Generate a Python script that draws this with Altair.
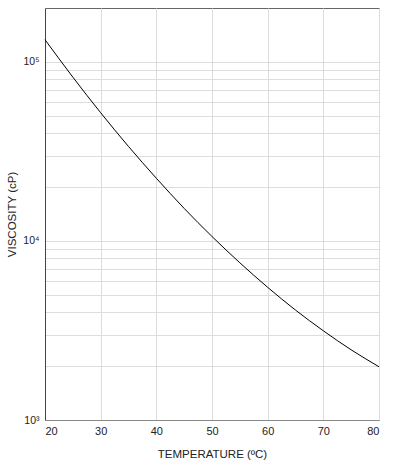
import altair as alt
import pandas as pd

temps = [20, 25, 30, 35, 40, 45, 50, 55, 60, 65, 70, 75, 80]
viscosity = [133000, 82200, 52000, 33700, 22400, 15200, 10590, 7550, 5510, 4110, 3150, 2466, 1982]

grid_values = [1000, 2000, 3000, 4000, 5000, 6000, 7000, 8000, 9000,
               10000, 20000, 30000, 40000, 50000, 60000, 70000, 80000, 90000, 100000]
x_ticks = [20, 30, 40, 50, 60, 70, 80]

df = pd.DataFrame({"T": temps, "V": viscosity})

FONT = "Liberation Sans"

chart = alt.Chart(df).mark_line(color="black", strokeWidth=1, interpolate="natural").encode(
    x=alt.X("T:Q", scale=alt.Scale(domain=[20, 80], nice=False),
            axis=alt.Axis(values=x_ticks, title="TEMPERATURE (ºC)", ticks=False,
                          labelPadding=5, titlePadding=12, domainColor="#888",
                          gridColor="#dddddd", labelFont=FONT, titleFont=FONT,
                          labelFontSize=11, titleFontSize=11.5, titleFontWeight="normal",
                          labelColor="#222", titleColor="#222")),
    y=alt.Y("V:Q", scale=alt.Scale(type="log", domain=[1000, 200000], nice=False),
            axis=alt.Axis(values=grid_values, title="VISCOSITY (cP)", ticks=False,
                          labelExpr="datum.value == 1000 ? '10³' : datum.value == 10000 ? '10⁴' : datum.value == 100000 ? '10⁵' : ''",
                          labelPadding=6, titlePadding=5, domainColor="#444",
                          gridColor="#dddddd", labelFont=FONT, titleFont=FONT,
                          labelFontSize=10.5, titleFontSize=11.5, titleFontWeight="normal",
                          labelColor="#222", titleColor="#222")),
).properties(
    width=334, height=412,
    padding={"left": 45, "top": 8, "right": 17, "bottom": 52},
    autosize="none",
).configure_view(stroke="#666", strokeWidth=1)

chart.save("out.html", embed_options={"renderer": "svg", "actions": False})
